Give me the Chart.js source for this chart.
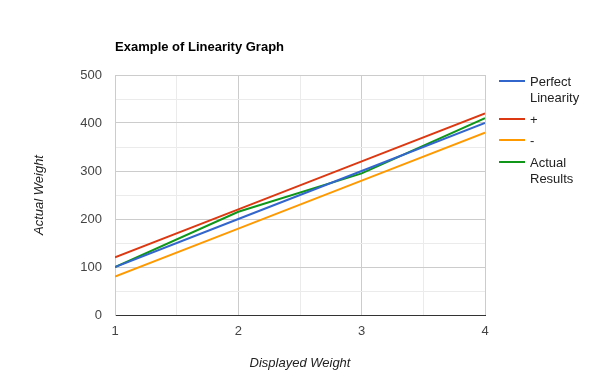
<!DOCTYPE html>
<html>
<head>
<meta charset="utf-8">
<script src="https://cdn.jsdelivr.net/npm/chart.js@4/dist/chart.umd.min.js"></script>
<style>
  html, body { margin: 0; padding: 0; background: #fff; }
  #wrap { width: 600px; height: 390px; }
</style>
</head>
<body>
<div id="wrap"><canvas id="linearityChart" width="600" height="390"></canvas></div>
<script>
const displayed = [1, 2, 3, 4];
const perfect = [100, 200, 300, 400];
const plus = [120, 220, 320, 420];
const minus = [80, 180, 280, 380];
const actual = [100, 215, 295, 410];
const yTicks = [0, 100, 200, 300, 400, 500];
const xTicks = [1, 2, 3, 4];

const fontFamily = '"Liberation Sans", Arial, sans-serif';

function toPoints(values) {
    return displayed.map((x, i) => ({ x: x, y: values[i] }));
}

// title + wrapped legend drawn on the right like the original
const sideLegend = {
    id: 'sideLegend',
    afterDraw(chart) {
        const ctx = chart.ctx;
        ctx.save();
        ctx.fillStyle = '#000';
        ctx.font = 'bold 13px ' + fontFamily;
        ctx.textBaseline = 'middle';
        ctx.textAlign = 'left';
        ctx.fillText('Example of Linearity Graph', chart.chartArea.left, 47);

        ctx.font = '13px ' + fontFamily;
        let y = 81;
        chart.data.datasets.forEach(ds => {
            ctx.strokeStyle = ds.borderColor;
            ctx.lineWidth = 2;
            ctx.beginPath();
            ctx.moveTo(499, Math.round(y));
            ctx.lineTo(525, Math.round(y));
            ctx.stroke();
            // wrap words to fit
            const words = ds.label.split(' ');
            const lines = [];
            let cur = '';
            words.forEach(w => {
                const test = cur ? cur + ' ' + w : w;
                if (cur && ctx.measureText(test).width > 66) {
                    lines.push(cur);
                    cur = w;
                } else {
                    cur = test;
                }
            });
            lines.push(cur);
            ctx.fillStyle = '#222';
            lines.forEach((l, i) => ctx.fillText(l, 530, Math.round(y) + 1 + i * 16));
            y += (lines.length - 1) * 16 + 21.5;
        });
        ctx.restore();
    }
};

const ctx = document.getElementById('linearityChart').getContext('2d');
new Chart(ctx, {
    type: 'line',
    data: {
        datasets: [
            { label: 'Perfect Linearity', data: toPoints(perfect), borderColor: '#3366cc' },
            { label: '+', data: toPoints(plus), borderColor: '#dc3912' },
            { label: '-', data: toPoints(minus), borderColor: '#ff9900' },
            { label: 'Actual Results', data: toPoints(actual), borderColor: '#109618' }
        ]
    },
    options: {
        responsive: false,
        animation: false,
        layout: { padding: { top: 75, right: 115, left: 0, bottom: 0 } },
        elements: {
            line: { borderWidth: 2, tension: 0 },
            point: { radius: 0 }
        },
        plugins: {
            legend: { display: false },
            title: { display: false },
            tooltip: { enabled: false }
        },
        scales: {
            x: {
                type: 'linear',
                min: 1,
                max: 4,
                afterFit: s => { s.height = 75; },
                afterBuildTicks: s => {
                    s.ticks = [];
                    for (let v = 1; v <= 4; v += 0.5) s.ticks.push({ value: v });
                },
                ticks: {
                    padding: 9,
                    color: '#444',
                    font: { family: fontFamily, size: 13 },
                    callback: v => xTicks.includes(v) ? String(v) : ''
                },
                grid: {
                    drawTicks: false,
                    color: c => Number.isInteger(c.tick.value) ? '#cccccc' : '#ebebeb'
                },
                border: { color: '#333333' },
                title: {
                    display: true,
                    text: 'Displayed Weight',
                    color: '#222',
                    padding: { top: 0, bottom: 19 },
                    font: { family: fontFamily, size: 13, style: 'italic' }
                }
            },
            y: {
                min: 0,
                max: 500,
                afterFit: s => { s.width = 115; },
                afterBuildTicks: s => {
                    s.ticks = [];
                    for (let v = 0; v <= 500; v += 50) s.ticks.push({ value: v });
                },
                ticks: {
                    padding: 13,
                    color: '#444',
                    font: { family: fontFamily, size: 13 },
                    callback: v => yTicks.includes(v) ? String(v) : ''
                },
                grid: {
                    drawTicks: false,
                    color: c => c.tick.value === 0 ? '#333333' : (c.tick.value % 100 === 0 ? '#cccccc' : '#ebebeb')
                },
                border: { color: '#cccccc' },
                title: {
                    display: true,
                    text: 'Actual Weight',
                    color: '#222',
                    padding: { top: 32, bottom: 0 },
                    font: { family: fontFamily, size: 13, style: 'italic' }
                }
            }
        }
    },
    plugins: [sideLegend]
});
</script>
</body>
</html>
